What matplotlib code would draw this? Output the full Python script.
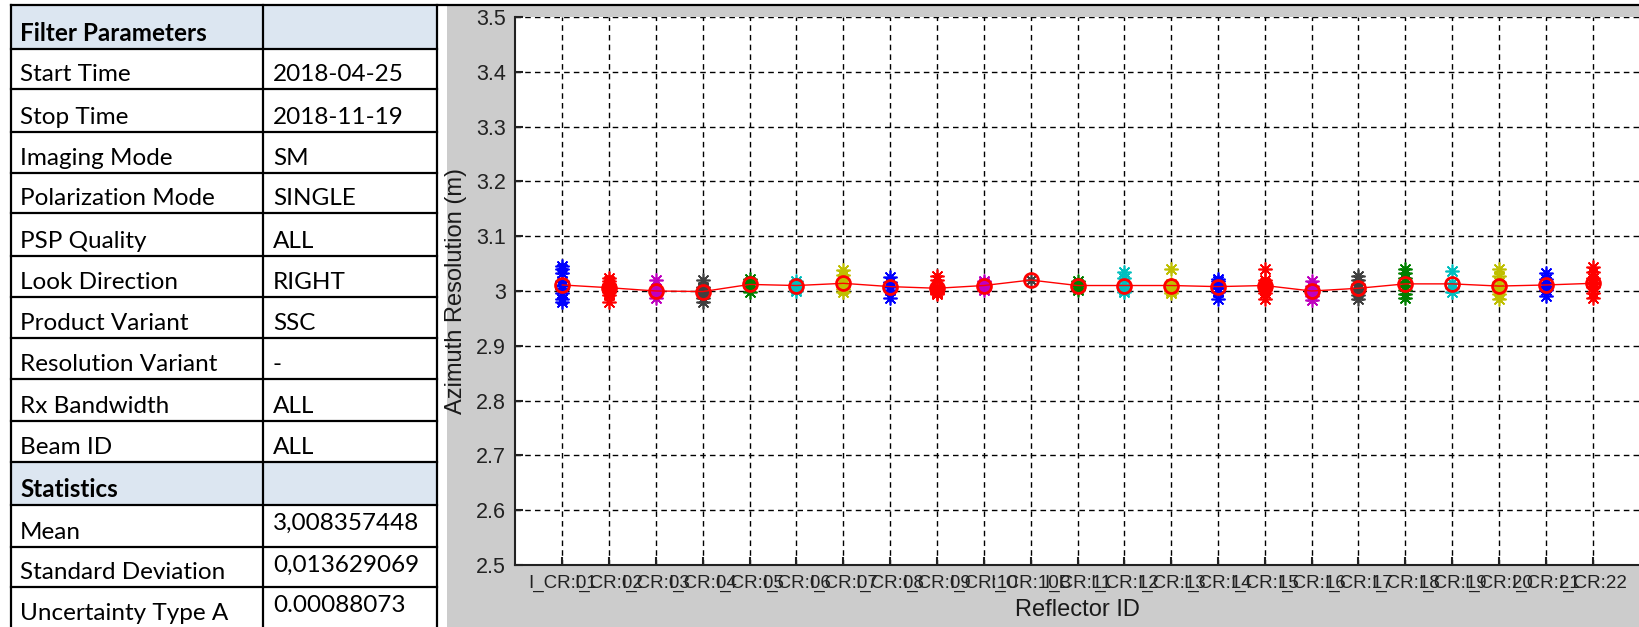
import matplotlib
matplotlib.use("Agg")
import matplotlib.pyplot as plt
from matplotlib.patches import Rectangle
from matplotlib.lines import Line2D
from matplotlib import font_manager

# ---------------- data ----------------
table_labels = ["Filter Parameters", "Start Time", "Stop Time", "Imaging Mode",
                "Polarization Mode", "PSP Quality", "Look Direction", "Product Variant",
                "Resolution Variant", "Rx Bandwidth", "Beam ID", "Statistics",
                "Mean", "Standard Deviation", "Uncertainty Type A"]
table_values = ["", "2018-04-25", "2018-11-19", "SM", "SINGLE", "ALL", "RIGHT", "SSC",
                "-", "ALL", "ALL", "", "3,008357448", "0,013629069", "0.00088073"]
header_rows = [0, 11]
stat_rows = [12, 13, 14]

reflectors = ["I_CR:01", "I_CR:02", "I_CR:03", "I_CR:04", "I_CR:05", "I_CR:06",
              "I_CR:07", "I_CR:08", "I_CR:09", "I_CR:10", "I_CR:10B", "I_CR:11",
              "I_CR:12", "I_CR:13", "I_CR:14", "I_CR:15", "I_CR:16", "I_CR:17",
              "I_CR:18", "I_CR:19", "I_CR:20", "I_CR:21", "I_CR:22"]

measurements = [
    [3.046, 3.040, 3.032, 3.018, 3.010, 3.004, 2.996, 2.986, 2.980],  # 01
    [3.024, 3.018, 3.012, 3.008, 3.004, 3.002, 2.998, 2.993, 2.980],  # 02
    [3.020, 3.004, 3.000, 2.998, 2.996, 2.988],                       # 03
    [3.020, 3.008, 3.002, 2.998, 2.994, 2.988, 2.980],                # 04
    [3.022, 3.016, 3.012, 3.008, 2.998],                              # 05
    [3.018, 3.012, 3.008, 3.004, 3.000],                              # 06
    [3.038, 3.030, 3.020, 3.012, 3.008, 3.004, 2.998],                # 07
    [3.026, 3.016, 3.008, 3.002, 2.987],                              # 08
    [3.028, 3.020, 3.008, 3.002, 2.998, 2.996, 2.994],                # 09
    [3.018, 3.014, 3.010, 3.006, 3.002],                              # 10
    [3.020],                                                          # 10B
    [3.018, 3.012, 3.010, 3.006, 3.002],                              # 11
    [3.034, 3.024, 3.012, 3.006, 3.002, 2.998],                       # 12
    [3.040, 3.012, 3.008, 3.004, 3.000, 2.996],                       # 13
    [3.022, 3.018, 3.012, 3.006, 2.998, 2.986],                       # 14
    [3.040, 3.020, 3.014, 3.010, 3.006, 3.002, 2.996, 2.986],         # 15
    [3.018, 3.010, 3.002, 2.996, 2.990, 2.984],                       # 16
    [3.028, 3.020, 3.012, 3.004, 2.998, 2.992, 2.986],                # 17
    [3.040, 3.032, 3.024, 3.016, 3.010, 3.002, 2.994, 2.988],         # 18
    [3.036, 3.014, 3.006, 2.998],                                     # 19
    [3.040, 3.028, 3.016, 3.006, 3.000, 2.994, 2.986],                # 20
    [3.032, 3.022, 3.014, 3.008, 3.002, 2.990],                       # 21
    [3.044, 3.034, 3.024, 3.016, 3.012, 3.008, 2.996, 2.988],         # 22
]
means = [3.011, 3.006, 3.000, 2.999, 3.012, 3.010, 3.014, 3.008, 3.005, 3.010,
         3.020, 3.010, 3.010, 3.010, 3.008, 3.010, 3.000, 3.005, 3.013, 3.013,
         3.009, 3.011, 3.014]

yticks = [2.5, 2.6, 2.7, 2.8, 2.9, 3.0, 3.1, 3.2, 3.3, 3.4, 3.5]
ytick_labels = ["2.5", "2.6", "2.7", "2.8", "2.9", "3", "3.1", "3.2", "3.3", "3.4", "3.5"]

# ---------------- style ----------------
palette = ["#0000ff", "#ff0000", "#bf00bf", "#404040", "#008000", "#00bfbf", "#bfbf00"]
W, H = 1640, 627
fig = plt.figure(figsize=(W / 100, H / 100), dpi=100)
fig.patch.set_facecolor("white")

installed = {f.name for f in font_manager.fontManager.ttflist}
narrow_ok = "Liberation Sans Narrow" in installed

def fx(x):
    return x / W

def fy(y):
    return 1 - y / H

# grey MATLAB panel
fig.patches.append(Rectangle((fx(447), 0), fx(W - 447), fy(6), transform=fig.transFigure,
                             facecolor="#cccccc", edgecolor="none", zorder=-5))

# ---------------- table ----------------
row_edges = [5, 49, 89, 132, 173, 213, 256, 297, 338, 379, 421, 462, 505, 547, 587, 640]
x_left, x_mid, x_right = 11, 263, 437
tfont = ["Lato", "DejaVu Sans"]
tsize = 17.5
for r in header_rows:
    fig.patches.append(Rectangle((fx(x_left), fy(row_edges[r + 1])), fx(x_right - x_left),
                                 (row_edges[r + 1] - row_edges[r]) / H,
                                 transform=fig.transFigure, facecolor="#dce6f1",
                                 edgecolor="none", zorder=-4))
for i, yv in enumerate(row_edges[:-1]):
    x_end = W if i == 0 else x_right
    fig.add_artist(Line2D([fx(x_left), fx(x_end)], [fy(yv), fy(yv)], color="black",
                          lw=1.6, transform=fig.transFigure, zorder=3))
for xv in (x_left, x_mid, x_right):
    fig.add_artist(Line2D([fx(xv), fx(xv)], [fy(row_edges[0]), 0], color="black",
                          lw=1.6, transform=fig.transFigure, zorder=3))

for i, (lab, val) in enumerate(zip(table_labels, table_values)):
    top = row_edges[i]
    base = row_edges[i + 1] - 8 if i < 14 else 620
    weight = "bold" if i in header_rows else "normal"
    fig.text(fx(20), fy(base), lab, family=tfont, fontsize=tsize, fontweight=weight,
             va="baseline", ha="left", color="black")
    if val:
        if i in stat_rows:
            fig.text(fx(273), fy(top + 8), val, family=tfont, fontsize=tsize,
                     va="top", ha="left", color="black")
        else:
            fig.text(fx(273), fy(base), val, family=tfont, fontsize=tsize,
                     va="baseline", ha="left", color="black")

# ---------------- chart ----------------
cfont = ["Liberation Sans", "DejaVu Sans"]
if narrow_ok:
    xfont, xsize = ["Liberation Sans Narrow", "Liberation Sans"], 15.5
else:
    xfont, xsize = cfont, 13.5

ax = fig.add_axes([fx(515.5), fy(565), fx(1639.5 - 515.5), (565 - 17) / H])
ax.set_zorder(1)
ax.set_facecolor("white")
xs = list(range(1, len(reflectors) + 1))
for i, (x, vals) in enumerate(zip(xs, measurements)):
    c = palette[i % len(palette)]
    ax.plot([x] * len(vals), vals, linestyle="none", marker=(8, 2, 0), markersize=10,
            mew=1.2, color=c, zorder=3)
    ax.plot([x] * len(vals), vals, linestyle="none", marker="o", markersize=3.5,
            color=c, zorder=3)
ax.plot(xs, means, color="#ff0000", lw=1.0, marker="o", markersize=10, mfc="none",
        mec="#ff0000", mew=2.0, zorder=4)

ax.set_xlim(0, 24)
ax.set_ylim(2.5, 3.5)
ax.set_xticks(xs)
ax.set_xticklabels(reflectors, family=xfont, fontsize=xsize, color="#1a1a1a")
ax.set_yticks(yticks)
ax.set_yticklabels(ytick_labels, family=cfont, fontsize=15.5, color="#1a1a1a")
ax.tick_params(direction="in", length=6, width=1.5, pad=7, colors="#222222")
ax.grid(True, color="black", linestyle=(0, (4, 3)), lw=1.0)
ax.set_axisbelow(True)
for s in ("top", "right"):
    ax.spines[s].set_visible(False)
for s in ("left", "bottom"):
    ax.spines[s].set_linewidth(1.5)
    ax.spines[s].set_color("#222222")
ax.set_xlabel("Reflector ID", family=cfont, fontsize=17, color="#1a1a1a", labelpad=5)
ax.set_ylabel("Azimuth Resolution (m)", family=cfont, fontsize=17, color="#1a1a1a",
              labelpad=6)

fig.savefig("out.png", dpi=100)
